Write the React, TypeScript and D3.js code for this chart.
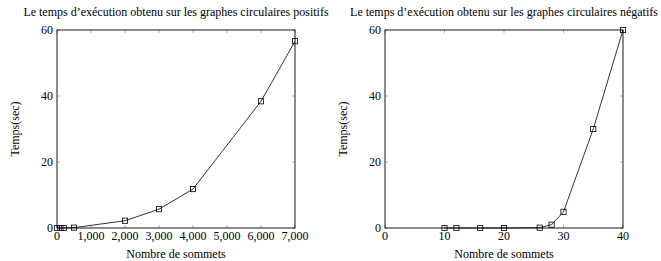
import React from 'react';
import * as d3 from 'd3';

// left: positive circular graphs
const posSommets = [0, 100, 200, 500, 2000, 3000, 4000, 6000, 7000];
const posTemps = [0, 0, 0, 0.1, 2.2, 5.7, 11.8, 38.4, 56.6];
const posTicks = [0, 1000, 2000, 3000, 4000, 5000, 6000, 7000];

// right: negative circular graphs
const negSommets = [10, 12, 16, 20, 26, 28, 30, 35, 40];
const negTemps = [0, 0, 0, 0, 0.1, 1.0, 4.9, 30, 60];
const negTicks = [0, 10, 20, 30, 40];

const yTicks = [0, 20, 40, 60];

const font = "'Liberation Serif', 'Times New Roman', 'DejaVu Serif', serif";

type PanelProps = {
  left: number;
  title: string;
  xs: number[];
  ys: number[];
  xTicks: number[];
  xMax: number;
  fmt: (d: number) => string;
};

const Panel: React.FC<PanelProps> = ({ left, title, xs, ys, xTicks, xMax, fmt }) => {
  const w = 238;
  const top = 30;
  const h = 198;
  const x = d3.scaleLinear().domain([0, xMax]).range([left, left + w]);
  const y = d3.scaleLinear().domain([0, 60]).range([top + h, top]);
  const pts = xs.map((v, i) => [x(v), y(ys[i])] as [number, number]);
  const line = d3.line()(pts) ?? '';
  const tk = 3;
  const fs = 12;

  return (
    <g style={{ fontFamily: font }} fill="#000">
      <text x={left + w / 2} y={16} textAnchor="middle" fontSize={fs}>{title}</text>
      {xTicks.map(t => (
        <g key={'x' + t}>
          <line x1={x(t)} x2={x(t)} y1={top + h} y2={top + h - tk} stroke="#999" strokeWidth={0.8} />
          <line x1={x(t)} x2={x(t)} y1={top} y2={top + tk} stroke="#999" strokeWidth={0.8} />
          <text x={x(t)} y={top + h + 12} textAnchor="middle" fontSize={fs}>{fmt(t)}</text>
        </g>
      ))}
      {yTicks.map(t => (
        <g key={'y' + t}>
          <line x1={left} x2={left + tk} y1={y(t)} y2={y(t)} stroke="#999" strokeWidth={0.8} />
          <line x1={left + w} x2={left + w - tk} y1={y(t)} y2={y(t)} stroke="#999" strokeWidth={0.8} />
          <text x={left - 4} y={y(t) + 4} textAnchor="end" fontSize={fs}>{t}</text>
        </g>
      ))}
      <rect x={left} y={top} width={w} height={h} fill="none" stroke="#000" strokeWidth={0.9} />
      <path d={line} fill="none" stroke="#000" strokeWidth={0.8} />
      {pts.map((p, i) => (
        <rect key={i} x={p[0] - 2.6} y={p[1] - 2.6} width={5.2} height={5.2} fill="none" stroke="#000" strokeWidth={0.8} />
      ))}
      <text x={left + w / 2} y={258} textAnchor="middle" fontSize={fs}>Nombre de sommets</text>
      <text transform={`translate(${left - 38.5},${top + h / 2}) rotate(-90)`} textAnchor="middle" fontSize={fs}>Temps(sec)</text>
    </g>
  );
};

const App: React.FC = () => {
  const comma = d3.format(',');
  return (
    <svg width={661} height={261} style={{ position: 'absolute', left: 0, top: 0 }}>
      <rect width={661} height={261} fill="#fff" />
      <Panel left={57} title="Le temps d’exécution obtenu sur les graphes circulaires positifs"
        xs={posSommets} ys={posTemps} xTicks={posTicks} xMax={7000} fmt={comma} />
      <Panel left={385} title="Le temps d’exécution obtenu sur les graphes circulaires négatifs"
        xs={negSommets} ys={negTemps} xTicks={negTicks} xMax={40} fmt={d => String(d)} />
    </svg>
  );
};

export default App;
